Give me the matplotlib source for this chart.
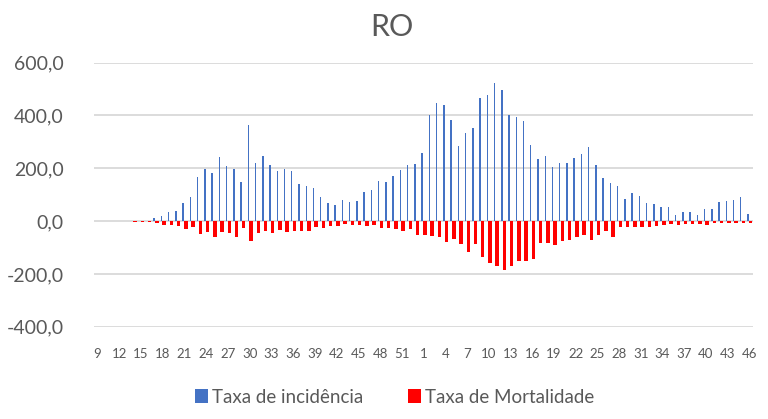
import matplotlib
matplotlib.use("Agg")
import matplotlib.pyplot as plt
from matplotlib.ticker import FuncFormatter, FixedLocator
from matplotlib.patches import Patch
import numpy as np

plt.rcParams['font.family'] = ['Lato', 'DejaVu Sans']

weeks = list(range(9, 54)) + list(range(1, 47))

incidencia = [
    0, 0, 0, 0, 0, 1, 2, 2,            # 9-16
    10, 19, 34, 37, 67, 91, 167, 197, 182, 243, 207, 198, 147, 363,   # 17-30
    220, 245, 212, 188, 196, 188, 140, 133, 125, 92, 68, 61, 81, 73,  # 31-44
    76, 110, 116, 152, 148, 169, 192, 211, 216,                        # 45-53
    258, 402, 447, 440, 383, 283, 333, 354, 467, 476, 524, 496, 402, 395,  # 1-14
    380, 289, 237, 246, 205, 219, 219, 240, 254, 282, 212, 162, 143, 133,  # 15-28
    85, 107, 95, 67, 64, 53, 53, 23, 33, 35, 23, 45, 44, 71, 76, 80, 92, 25  # 29-46
]

mortalidade = [
    0, 0, 0, 0, 0, -3, -3, -3,          # 9-16
    -6, -14, -15, -19, -30, -24, -48, -43, -61, -43, -44, -59, -27, -75,  # 17-30
    -44, -38, -44, -32, -40, -37, -38, -37, -24, -25, -18, -18, -10, -16,  # 31-44
    -14, -19, -13, -25, -27, -29, -38, -30, -51,                           # 45-53
    -51, -56, -59, -78, -67, -85, -117, -87, -136, -160, -170, -187, -169, -153,  # 1-14
    -153, -145, -83, -82, -91, -77, -70, -62, -53, -71, -52, -38, -59, -24,     # 15-28
    -21, -21, -21, -21, -18, -15, -10, -14, -10, -10, -11, -13, -9, -9, -9, -9, -9, -8  # 29-46
]

yticks = [-400, -200, 0, 200, 400, 600]

blue = '#4472C4'
red = '#FF0000'
txt = '#595959'
grid = '#D9D9D9'

fig = plt.figure(figsize=(7.68, 4.19), dpi=100)
ax = fig.add_axes([94/768, 1-326.7/419, (753-94)/768, (326.7-62.7)/419])

x = np.arange(len(weeks))
ax.bar(x - 0.19, incidencia, width=0.2, color=blue, zorder=3)
ax.bar(x + 0.18, mortalidade, width=0.48, color=red, zorder=3)

ax.set_xlim(-0.5, len(weeks) - 0.5)
ax.set_ylim(-400, 600)
ax.set_yticks(yticks)
ax.yaxis.set_major_formatter(FuncFormatter(lambda v, p: f"{v:.1f}".replace('.', ',')))
ax.yaxis.grid(True, color=grid, linewidth=1.3, zorder=0)
ax.set_axisbelow(True)

tick_pos = list(range(0, len(weeks), 3))
ax.xaxis.set_major_locator(FixedLocator(tick_pos))
ax.set_xticklabels([str(weeks[i]) for i in tick_pos])

for s in ax.spines.values():
    s.set_visible(False)
ax.tick_params(axis='both', length=0)
ax.tick_params(axis='y', labelsize=14, labelcolor=txt, pad=22)
ax.tick_params(axis='x', labelsize=9.5, labelcolor=txt, pad=15)

fig.text(392/768, 1-27/419, 'RO', ha='center', va='center', fontsize=22, color=txt)

handles = [Patch(facecolor=blue, label='Taxa de incidência'),
           Patch(facecolor=red, label='Taxa de Mortalidade')]
fig.legend(handles=handles, loc='center', bbox_to_anchor=(394.5/768, 1-397/419),
           ncol=2, frameon=False, fontsize=13.5, labelcolor=txt,
           handlelength=0.7, handleheight=0.7, handletextpad=0.2, columnspacing=2.4)

fig.savefig('out.png', dpi=100)
